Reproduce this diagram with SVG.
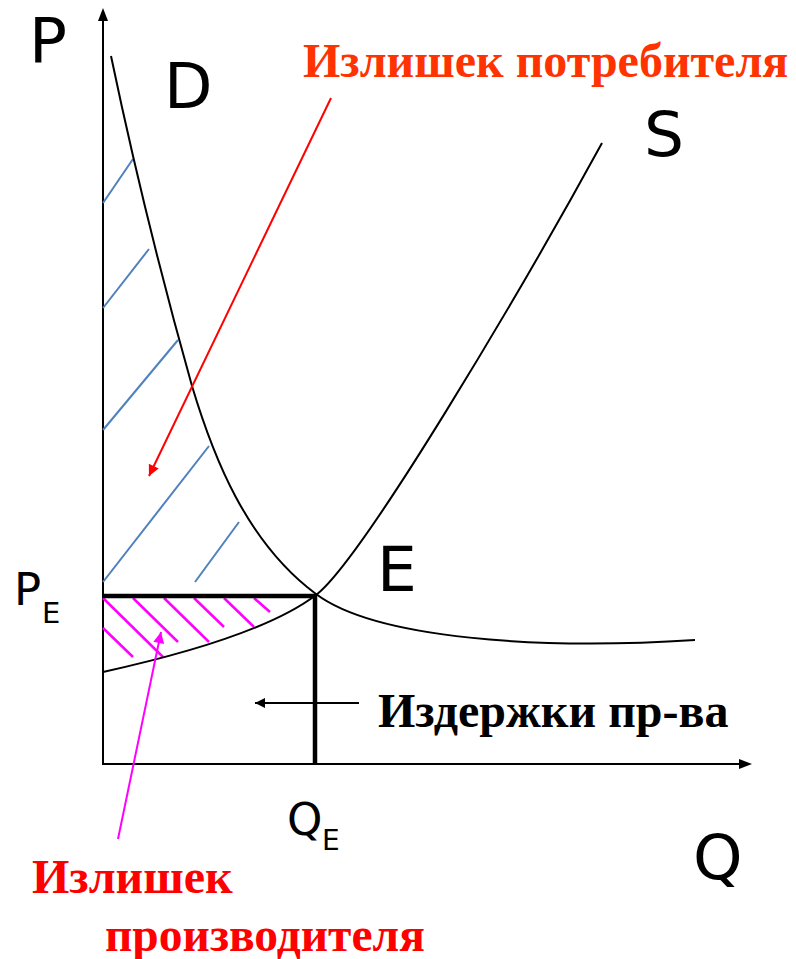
<svg xmlns="http://www.w3.org/2000/svg" width="796" height="959" viewBox="0 0 796 959">
<defs>
<style>
.ax{stroke:#000;stroke-width:2;fill:none}
.crv{stroke:#000;stroke-width:2;fill:none}
.thick{stroke:#000;stroke-width:4.5;fill:none}
.blue{stroke:#4F81BD;stroke-width:2;fill:none}
.mag{stroke:#FF00FF;stroke-width:2.5;fill:none}
.lbl{font-family:"DejaVu Sans",Verdana,sans-serif;fill:#000}
.bold{font-family:"Liberation Serif","Times New Roman",serif;font-weight:bold}
</style>
<marker id="ahR" viewBox="0 0 10 10" refX="10" refY="5" markerWidth="13" markerHeight="11" orient="auto" markerUnits="userSpaceOnUse">
<path d="M0,0 L10,5 L0,10 z" fill="#FF0000"/>
</marker>
<marker id="ahM" viewBox="0 0 10 10" refX="10" refY="5" markerWidth="13" markerHeight="11" orient="auto" markerUnits="userSpaceOnUse">
<path d="M0,0 L10,5 L0,10 z" fill="#FF00FF"/>
</marker>
<marker id="ahK" viewBox="0 0 10 10" refX="10" refY="5" markerWidth="14" markerHeight="10" orient="auto" markerUnits="userSpaceOnUse">
<path d="M0,0 L10,5 L0,10 z" fill="#000"/>
</marker>
</defs>
<rect width="796" height="959" fill="#fff"/>

<g id="axes">
<line class="ax" x1="103" y1="764" x2="103" y2="18"/>
<path d="M103,8 L98,21 L108,21 z" fill="#000"/>
<line class="ax" x1="102" y1="764" x2="740" y2="764"/>
<path d="M752,764 L739,759 L739,769 z" fill="#000"/>
</g>

<g id="consumer-hatch">
<line class="blue" x1="103" y1="203" x2="133" y2="159"/>
<line class="blue" x1="103" y1="308" x2="149" y2="249"/>
<line class="blue" x1="103" y1="430" x2="178" y2="340"/>
<line class="blue" x1="103" y1="582" x2="209" y2="446"/>
<line class="blue" x1="195" y1="582" x2="239" y2="522"/>
</g>

<g id="producer-hatch">
<line class="mag" x1="103" y1="628" x2="133" y2="657"/>
<line class="mag" x1="103" y1="598" x2="163" y2="657"/>
<line class="mag" x1="133" y1="598" x2="178" y2="642"/>
<line class="mag" x1="164" y1="598" x2="209" y2="642"/>
<line class="mag" x1="194" y1="598" x2="224" y2="627"/>
<line class="mag" x1="224" y1="598" x2="254" y2="627"/>
<line class="mag" x1="254" y1="598" x2="270" y2="612"/>
</g>

<g id="demand">
<path class="crv" d="M111,56 C134,166 161,276 192,386 C213,456 246,542 316,594 C376,639 540,650 695,640"/>
</g>

<g id="supply">
<path class="crv" d="M103,672 C180,655 270,630 316,595 C362,560 520,293 602,143"/>
</g>

<g id="equilibrium-lines">
<line class="thick" x1="103" y1="596" x2="317" y2="596"/>
<line class="thick" x1="315" y1="594" x2="315" y2="764"/>
</g>

<g id="connectors">
<line x1="331" y1="98" x2="149" y2="476" stroke="#FF0000" stroke-width="2" marker-end="url(#ahR)"/>
<line x1="118" y1="839" x2="161" y2="632" stroke="#FF00FF" stroke-width="2" marker-end="url(#ahM)"/>
<line x1="359" y1="703" x2="255" y2="703" stroke="#000" stroke-width="2" marker-end="url(#ahK)"/>
</g>

<g id="labels">
<text class="lbl" x="29" y="62" font-size="63">P</text>
<text class="lbl" x="164" y="108" font-size="63">D</text>
<text class="lbl" x="644" y="156" font-size="63">S</text>
<text class="lbl" x="377" y="591" font-size="63">E</text>
<text class="lbl" x="693" y="879" font-size="63">Q</text>
<text class="lbl" x="14" y="605" font-size="45">P</text>
<text class="lbl" x="42" y="623" font-size="29">E</text>
<text class="lbl" x="287" y="835" font-size="45">Q</text>
<text class="lbl" x="322" y="850" font-size="28">E</text>
</g>

<g id="consumer-label">
<text class="bold" x="303" y="77" font-size="48" fill="#FF3300">Излишек потребителя</text>
</g>
<g id="producer-label">
<text class="bold" x="32" y="893" font-size="48" fill="#FF0000">Излишек</text>
<text class="bold" x="105" y="951" font-size="47.5" fill="#FF0000">производителя</text>
</g>
<g id="costs-label">
<text class="bold" x="378" y="727" font-size="48" fill="#000">Издержки пр-ва</text>
</g>
</svg>
